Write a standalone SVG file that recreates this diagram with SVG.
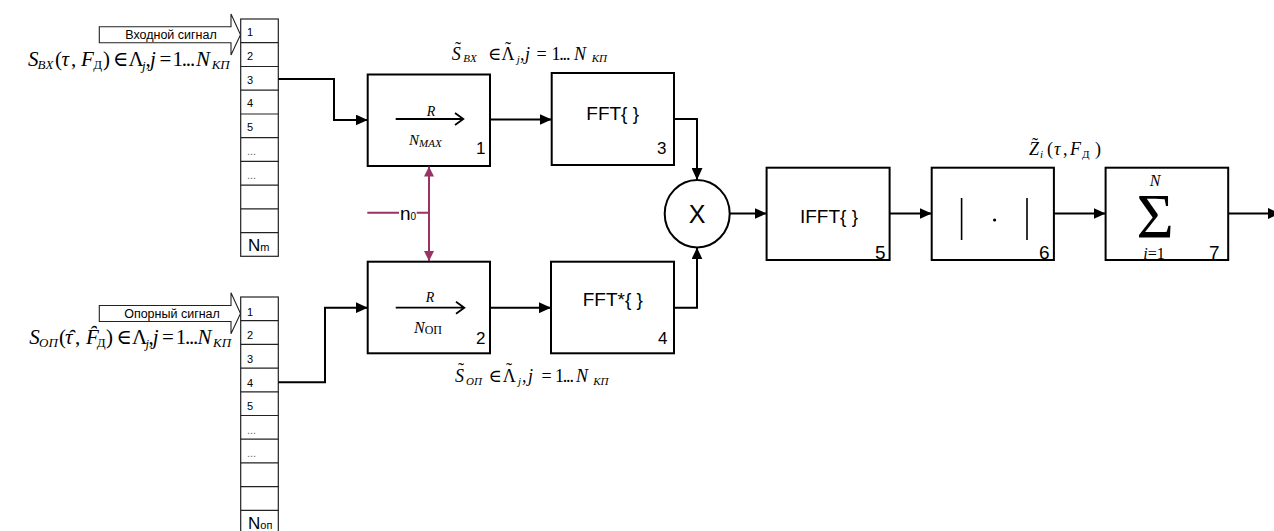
<svg xmlns="http://www.w3.org/2000/svg" width="1274" height="531" viewBox="0 0 1274 531">
<style>
.bg{fill:#fff}
.blk{fill:#fff;stroke:#000;stroke-width:2}
.reg{fill:#fff;stroke:#222;stroke-width:1.2}
.sig{fill:#fff;stroke:#222;stroke-width:1.1}
.wire{fill:none;stroke:#000;stroke-width:2}
.pw{fill:none;stroke:#993366;stroke-width:2}
.sans{font-family:"Liberation Sans",Arial,sans-serif;fill:#000}
.ser{font-family:"Liberation Serif","DejaVu Serif",serif;fill:#000}
.it{font-style:italic}
.rl{font-size:11px}
.dots{font-size:11px;fill:#666}
.num{font-size:17px}
.num2{font-size:19px}
.op{font-size:19px}
.f20{font-size:21px}
.f17{font-size:18px}
.s13{font-size:13px}
.s11{font-size:11px}
.ell{letter-spacing:-1.2px}
.til{font-family:"Liberation Serif","DejaVu Serif",serif;font-size:18px;text-anchor:middle;fill:#000}
</style>
<defs>
<marker id="ah" markerUnits="userSpaceOnUse" markerWidth="12" markerHeight="11" refX="12" refY="5.5" orient="auto" viewBox="0 0 12 11">
<path d="M0,0 L12,5.5 L0,11 z" fill="#000"/>
</marker>
<marker id="ap" markerUnits="userSpaceOnUse" markerWidth="10" markerHeight="10" refX="10" refY="5" orient="auto-start-reverse" viewBox="0 0 10 10">
<path d="M0,0 L10,5 L0,10 z" fill="#993366"/>
</marker>
</defs>
<rect class="bg" x="0" y="0" width="1274" height="531"/>

<g id="input-signal">
<polygon class="sig" points="99.3,26.7 231,26.7 231,14 240.5,34.7 231,55 231,42.7 99.3,42.7"/>
<text class="sans" x="171" y="38.5" font-size="12.5" text-anchor="middle">Входной сигнал</text>
<text class="ser f20" y="66"><tspan class="it" x="28">S</tspan><tspan class="it s13" x="37.5" y="69">BX</tspan><tspan x="55" y="66">(</tspan><tspan class="it" x="61.5">τ</tspan><tspan x="71">,</tspan><tspan class="it" x="81">F</tspan><tspan class="s13" x="93.3" y="69">Д</tspan><tspan x="103" y="66">)</tspan><tspan x="113">∈</tspan><tspan x="128.5">Λ</tspan><tspan class="it s13" x="142" y="70">j</tspan><tspan x="145.5" y="66">,</tspan><tspan class="it" x="150">j</tspan><tspan x="159.5">=</tspan><tspan class="ell" x="172.5">1...</tspan><tspan class="it" x="196">N</tspan><tspan class="it s13" x="211.7" y="69">КП</tspan></text>
</g>

<g id="register-in">
<rect class="reg" x="240.7" y="19" width="37.6" height="237.3"/>
<path class="reg" d="M240.7,42.7H278.3M240.7,66.5H278.3M240.7,90.2H278.3M240.7,114H278.3M240.7,137.7H278.3M240.7,161.4H278.3M240.7,185.1H278.3M240.7,208.8H278.3M240.7,232.6H278.3"/>
<g class="sans rl">
<text x="247" y="36">1</text>
<text x="247" y="59.7">2</text>
<text x="247" y="83.5">3</text>
<text x="247" y="107.2">4</text>
<text x="247" y="131">5</text>
</g>
<text class="sans dots" x="247" y="155">...</text>
<text class="sans dots" x="247" y="179">...</text>
<text class="sans" x="248" y="250.7" font-size="17">N<tspan font-size="11">m</tspan></text>
</g>

<g id="ref-signal">
<polygon class="sig" points="99.3,305.5 231,305.5 231,292.8 240.5,313.5 231,333.8 231,321.5 99.3,321.5"/>
<text class="sans" x="172" y="317.5" font-size="12.5" text-anchor="middle">Опорный сигнал</text>
<text class="ser f20" y="343.5"><tspan class="it" x="29.3">S</tspan><tspan class="it s13" x="39" y="346.5">ОП</tspan><tspan x="59" y="343.5">(</tspan><tspan class="it" x="65">τ̑</tspan><tspan x="75">,</tspan><tspan class="it" x="86">F̑</tspan><tspan class="s13" x="96.7" y="346.5">Д</tspan><tspan x="106" y="343.5">)</tspan><tspan x="116.5">∈</tspan><tspan x="132">Λ</tspan><tspan class="it s13" x="145.5" y="347.5">j</tspan><tspan x="148.5" y="343.5">,</tspan><tspan class="it" x="152.7">j</tspan><tspan x="162">=</tspan><tspan class="ell" x="175.7">1...</tspan><tspan class="it" x="197.5">N</tspan><tspan class="it s13" x="213" y="346.5">КП</tspan></text>
</g>

<g id="register-ref">
<rect class="reg" x="240.7" y="297" width="37.6" height="240"/>
<path class="reg" d="M240.7,320.7H278.3M240.7,344.4H278.3M240.7,368.1H278.3M240.7,391.8H278.3M240.7,415.5H278.3M240.7,439.2H278.3M240.7,462.9H278.3M240.7,486.6H278.3M240.7,510.3H278.3"/>
<g class="sans rl">
<text x="247" y="315.5">1</text>
<text x="247" y="339.2">2</text>
<text x="247" y="362.9">3</text>
<text x="247" y="386.6">4</text>
<text x="247" y="410.3">5</text>
</g>
<text class="sans dots" x="247" y="433.5">...</text>
<text class="sans dots" x="247" y="457">...</text>
<text class="sans" x="248" y="529.3" font-size="17">N<tspan font-size="11">оп</tspan></text>
</g>

<g id="block1">
<rect class="blk" x="367.7" y="74.5" width="122.3" height="91.5"/>
<text class="ser it" x="431" y="116" font-size="14" text-anchor="middle">R</text>
<path d="M395.7,119H463.3M455,113L463.3,119L455,125" fill="none" stroke="#000" stroke-width="1.8"/>
<text class="ser it" x="409" y="145" font-size="15">N<tspan font-size="11" dy="2">MAX</tspan></text>
<text class="sans num" x="476" y="154">1</text>
</g>

<g id="block2">
<rect class="blk" x="367.7" y="261.7" width="122.3" height="91.6"/>
<text class="ser it" x="430" y="301.7" font-size="14" text-anchor="middle">R</text>
<path d="M395.7,307.7H464.3M456,301.7L464.3,307.7L456,313.7" fill="none" stroke="#000" stroke-width="1.8"/>
<text class="ser it" x="414" y="332.7" font-size="16">N<tspan font-style="normal" font-size="12" dy="1">ОП</tspan></text>
<text class="sans num" x="476" y="344.3">2</text>
</g>

<g id="block3">
<rect class="blk" x="551.7" y="73" width="122.3" height="92"/>
<text class="sans op" x="612.7" y="120" text-anchor="middle">FFT{ }</text>
<text class="sans num" x="657" y="154">3</text>
</g>

<g id="block4">
<rect class="blk" x="551" y="261.7" width="123" height="91.6"/>
<text class="sans op" x="612.8" y="306" text-anchor="middle">FFT*{ }</text>
<text class="sans num" x="658" y="344.3">4</text>
</g>

<g id="mult">
<ellipse class="blk" cx="697.2" cy="213.7" rx="32.5" ry="33.7"/>
<text class="sans" x="697" y="223" font-size="25" text-anchor="middle">X</text>
</g>

<g id="block5">
<rect class="blk" x="766.6" y="167.7" width="123" height="92.3"/>
<text class="sans op" x="829" y="223" text-anchor="middle">IFFT{ }</text>
<text class="sans num2" x="875" y="258.5">5</text>
</g>

<g id="block6">
<rect class="blk" x="931.7" y="167.7" width="122.2" height="92.3"/>
<path d="M961.6,198V240M1027,198V240" stroke="#000" stroke-width="1.6"/>
<circle cx="994.6" cy="220" r="1.6" fill="#000"/>
<text class="sans num2" x="1039" y="258.5">6</text>
</g>

<g id="block7">
<rect class="blk" x="1105.6" y="167.7" width="122.6" height="92.3"/>
<text class="ser it" x="1155" y="186" font-size="16" text-anchor="middle">N</text>
<text class="ser" x="1155" y="238" font-size="64" text-anchor="middle">Σ</text>
<text class="ser" x="1154" y="259" font-size="16" text-anchor="middle"><tspan font-style="italic">i</tspan>=1</text>
<text class="sans num2" x="1209" y="258.5">7</text>
</g>

<g id="labels">
<text class="ser f17" y="59.5"><tspan class="it" x="451.7">S</tspan><tspan class="it s11" x="463.3" y="62">BX</tspan><tspan x="488" y="59.5">∈</tspan><tspan x="501.5">Λ</tspan><tspan class="it s11" x="516.7" y="63">j</tspan><tspan x="520" y="59.5">,</tspan><tspan class="it" x="525">j</tspan><tspan x="536.5">=</tspan><tspan class="ell" x="551.5">1...</tspan><tspan class="it" x="574">N</tspan><tspan class="it s11" x="591.7" y="62">КП</tspan></text>
<text class="til" x="458" y="55">˜</text>
<text class="til" x="508" y="55">˜</text>
<text class="ser f17" y="381.7"><tspan class="it" x="455">S</tspan><tspan class="it s11" x="466" y="384.5">ОП</tspan><tspan x="488.5" y="381.7">∈</tspan><tspan x="502.7">Λ</tspan><tspan class="it s11" x="518" y="385">j</tspan><tspan x="522" y="381.7">,</tspan><tspan class="it" x="528">j</tspan><tspan x="541.5">=</tspan><tspan class="ell" x="555">1...</tspan><tspan class="it" x="576">N</tspan><tspan class="it s11" x="593.3" y="384.5">КП</tspan></text>
<text class="til" x="461" y="376">˜</text>
<text class="til" x="509" y="376">˜</text>
<text class="ser f17" y="155"><tspan class="it" x="1029">Z</tspan><tspan class="it s11" x="1040" y="158">i</tspan><tspan x="1047" y="155">(</tspan><tspan class="it" x="1054">τ</tspan><tspan x="1063">,</tspan><tspan class="it" x="1070">F</tspan><tspan class="s11" x="1082" y="158">Д</tspan><tspan x="1095" y="155">)</tspan></text>
<text class="til" x="1035" y="150.5">˜</text>
</g>

<g id="connectors">
<path class="wire" marker-end="url(#ah)" d="M278.3,79H334V120H367.7"/>
<path class="wire" marker-end="url(#ah)" d="M490,119.5H551.7"/>
<path class="wire" marker-end="url(#ah)" d="M674,119H697V180"/>
<path class="wire" marker-end="url(#ah)" d="M278.3,382.3H325V307.7H367.7"/>
<path class="wire" marker-end="url(#ah)" d="M490,307.7H551"/>
<path class="wire" marker-end="url(#ah)" d="M674,307.7H697V247.4"/>
<path class="wire" marker-end="url(#ah)" d="M729.7,213.5H766.6"/>
<path class="wire" marker-end="url(#ah)" d="M889.6,213.5H931.7"/>
<path class="wire" marker-end="url(#ah)" d="M1054,213.5H1105.6"/>
<path class="wire" marker-end="url(#ah)" d="M1228.2,213.5H1280"/>
<path class="pw" marker-start="url(#ap)" marker-end="url(#ap)" d="M429,166.5V261"/>
<path class="pw" d="M367.3,212.7H399M416.7,212.7H429"/>
<text class="sans" x="400" y="220" font-size="19" fill="#000">n<tspan font-size="10">0</tspan></text>
</g>
</svg>
